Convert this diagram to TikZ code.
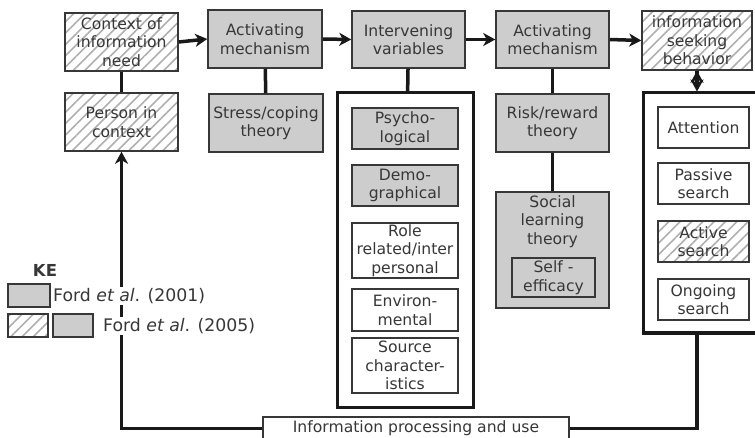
\documentclass[tikz,border=0pt]{standalone}
\usepackage{fontspec}
\setmainfont{DejaVu Sans}
\usepackage{tikz}
\usetikzlibrary{arrows.meta,patterns.meta}

\definecolor{boxgray}{RGB}{205,205,205}
\definecolor{hatchgray}{RGB}{175,175,175}
\definecolor{inkgray}{RGB}{55,55,55}

\begin{document}
\begin{tikzpicture}[x=1pt,y=-1pt,>={Stealth[length=12pt,width=13pt,inset=3.5pt]},
  every node/.style={font=\fontsize{15.6}{18.5}\selectfont,text=inkgray,align=center},
  box/.style={draw=inkgray,line width=1.5pt,inner sep=1pt},
  graybox/.style={box,fill=boxgray},
  hatchbox/.style={box,pattern={Lines[angle=45,distance=8pt,line width=1.6pt]},pattern color=hatchgray},
  whitebox/.style={box,fill=white},
  frame/.style={draw=black!90,line width=3pt},
  link/.style={draw=black!90,line width=3.5pt},
  keytext/.style={anchor=west,fill=white,inner sep=1pt,font=\fontsize{17.3}{20}\selectfont}]
  \useasboundingbox (0,0) rectangle (755,438);

  % top row
  \node[hatchbox,minimum width=113,minimum height=58] (ctx) at (121.5,42) {Context of\\information\\need};
  \node[graybox,minimum width=114,minimum height=58] (act1) at (265,39) {Activating\\mechanism};
  \node[graybox,minimum width=113,minimum height=57] (interv) at (408.5,39.5) {Intervening\\variables};
  \node[graybox,minimum width=113,minimum height=57] (act2) at (552.5,39.5) {Activating\\mechanism};
  \node[hatchbox,minimum width=110,minimum height=59] (seek) at (697,40.5) {information\\seeking\\behavior};

  % second row
  \node[hatchbox,minimum width=113,minimum height=58] (person) at (121.5,122) {Person in\\context};
  \node[graybox,minimum width=114,minimum height=58] (stress) at (266,123) {Stress/coping\\theory};
  \node[graybox,minimum width=113,minimum height=58] (risk) at (552.5,123) {Risk/reward\\theory};

  % intervening variables
  \node[frame,minimum width=136,minimum height=314] (varbox) at (405,250) {};
  \node[graybox,minimum width=106,minimum height=41] (psych) at (405,128.5) {Psycho-\\logical};
  \node[graybox,minimum width=106,minimum height=41] (demo) at (405,185.5) {Demo-\\graphical};
  \node[whitebox,minimum width=106,minimum height=55] (role) at (405,250.5) {Role\\related/inter\\personal};
  \node[whitebox,minimum width=106,minimum height=42] (env) at (405,310) {Environ-\\mental};
  \node[whitebox,minimum width=106,minimum height=55] (source) at (405,365.5) {Source\\character-\\istics};

  % social learning
  \node[graybox,minimum width=113,minimum height=116] (social) at (552.5,250) {};
  \node[anchor=north,inner sep=4pt] (socialtxt) at (social.north) {Social\\learning\\theory};
  \node[box,minimum width=83,minimum height=39] (selfeff) at (553.5,277.5) {Self -\\efficacy};

  % search modes
  \node[frame,minimum width=114,minimum height=240] (seekbox) at (700,213) {};
  \node[whitebox,minimum width=91,minimum height=41] (attention) at (703.5,127.5) {Attention};
  \node[whitebox,minimum width=91,minimum height=41] (passive) at (703.5,183.5) {Passive\\search};
  \node[hatchbox,minimum width=91,minimum height=41] (active) at (703.5,241.5) {Active\\search};
  \node[whitebox,minimum width=91,minimum height=41] (ongoing) at (703.5,299.5) {Ongoing\\search};

  % processing
  \node[whitebox,minimum width=306,minimum height=23,inner sep=0pt] (infouse) at (416,428.5) {Information processing and use};

  % connectors
  \path[link]
    (ctx) edge (person)
    (act1) edge (stress)
    (interv) edge (varbox)
    (act2) edge (risk)
    (risk) edge (social);
  \path[link,->]
    (ctx.east) edge (act1.west)
    (act1.east) edge (interv.west)
    (interv.east) edge (act2.west)
    (act2.east) edge (seek.west)
    (seek.south) edge (seek.south |- seekbox.north);
  \draw[link] (seek.south |- seekbox.south) |- (infouse.east);
  \draw[link,->] (infouse.west) -| (person.south);

  % key
  \node[font=\fontsize{16.5}{19}\selectfont\bfseries] (ke) at (45,270) {KE};
  \node[graybox,minimum width=42,minimum height=23] (key1) at (29,295.5) {};
  \node[keytext] (key1txt) at (52,296) {Ford \textit{et al}. (2001)};
  \node[hatchbox,minimum width=40,minimum height=23] (key2a) at (28,325.5) {};
  \node[graybox,minimum width=40,minimum height=23] (key2b) at (73,325.5) {};
  \node[keytext] (key2txt) at (102,326) {Ford \textit{et al}. (2005)};
\end{tikzpicture}
\end{document}
